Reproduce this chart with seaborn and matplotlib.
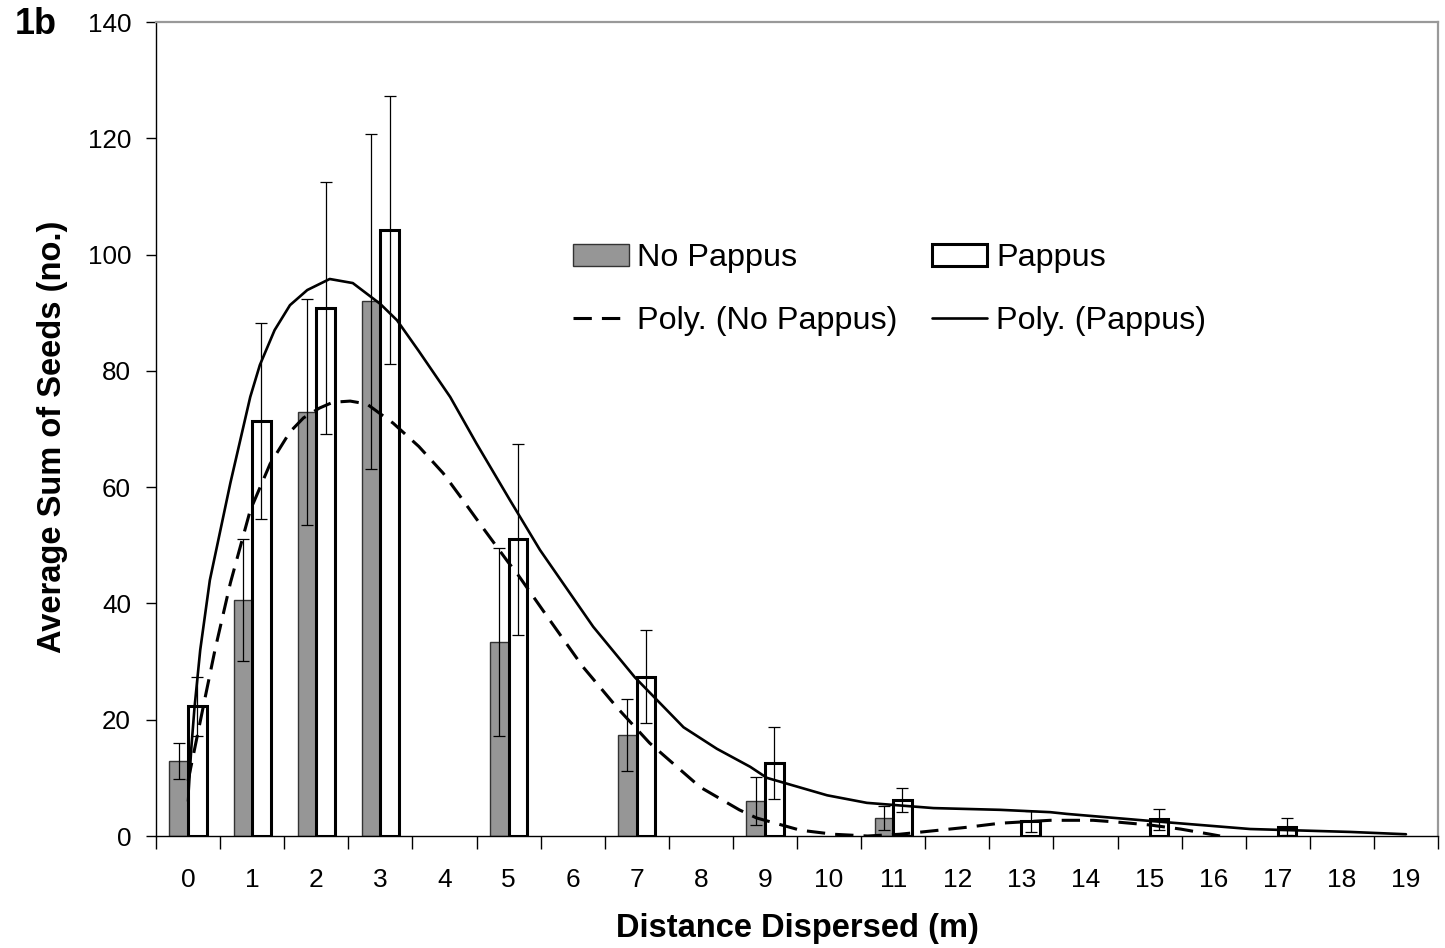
import numpy as np
import pandas as pd
import matplotlib
matplotlib.use("Agg")
import matplotlib.pyplot as plt
import seaborn as sns
from matplotlib.patches import Patch
from matplotlib.lines import Line2D
from matplotlib.ticker import FixedLocator

sns.set_theme(style="white")
plt.rcParams['font.family'] = ['Liberation Sans', 'DejaVu Sans']
plt.rcParams['text.color'] = 'black'
plt.rcParams['axes.labelcolor'] = 'black'
plt.rcParams['xtick.color'] = 'black'
plt.rcParams['ytick.color'] = 'black'

# ---- data ----
categories = list(range(20))

no_pappus_dist = [0, 1, 2, 3, 5, 7, 9, 11]
no_pappus_mean = [12.9, 40.6, 72.9, 92.0, 33.4, 17.4, 6.0, 3.1]
no_pappus_err = [3.1, 10.5, 19.4, 28.8, 16.2, 6.2, 4.1, 2.1]

pappus_dist = [0, 1, 2, 3, 5, 7, 9, 11, 13, 15, 17]
pappus_mean = [22.3, 71.4, 90.8, 104.2, 51.0, 27.4, 12.6, 6.2, 2.5, 2.9, 1.6]
pappus_err = [5.1, 16.9, 21.7, 23.0, 16.4, 8.0, 6.2, 2.1, 1.8, 1.8, 1.5]

# polynomial trendlines
poly_np_x = [0.0, 0.06, 0.27, 0.42, 0.66, 0.97, 1.28, 1.59, 1.8, 2.05, 2.26, 2.53,
             2.79, 3.2, 3.6, 3.98, 4.24, 4.6, 5.0, 5.13, 5.6, 6.16, 6.7, 7.2, 7.99,
             8.6, 8.87, 9.55, 10.07, 10.6, 11.1, 11.63, 12.15, 12.67, 13.45, 14.12,
             14.49, 15.0, 15.48, 15.95, 16.1]
poly_np_y = [9.5, 12.7, 24.0, 32.0, 43.5, 56.0, 64.0, 69.5, 71.9, 73.6, 74.6, 74.8,
             74.3, 71.0, 67.0, 62.4, 58.5, 53.0, 47.0, 45.2, 37.8, 29.1, 22.0, 16.0, 8.4,
             4.5, 3.1, 1.0, 0.3, 0.0, 0.3, 0.9, 1.5, 2.2, 2.7, 2.7,
             2.4, 1.9, 1.2, 0.3, 0.0]

poly_p_x = [0.0, 0.05, 0.1, 0.19, 0.34, 0.66, 0.97, 1.12, 1.35, 1.59, 1.86, 2.21,
            2.57, 3.0, 3.26, 3.6, 4.09, 4.5, 5.02, 5.49, 6.32, 6.97, 7.73, 8.25,
            8.77, 9.03, 9.97, 10.59, 11.63, 12.67, 13.45, 13.71, 15.0, 16.57,
            18.13, 19.0]
poly_p_y = [6.0, 15.0, 22.0, 32.0, 44.0, 60.7, 75.5, 81.0, 87.0, 91.3, 93.9, 95.8,
            95.1, 91.5, 88.7, 83.4, 75.5, 67.5, 57.8, 49.2, 36.0, 27.3, 18.7, 15.0,
            11.9, 10.0, 7.0, 5.7, 4.8, 4.5, 4.1, 3.8, 2.6, 1.2,
            0.7, 0.3]

y_ticks = [0, 20, 40, 60, 80, 100, 120, 140]

df = pd.concat([
    pd.DataFrame({"dist": no_pappus_dist, "mean": no_pappus_mean,
                  "err": no_pappus_err, "group": "No Pappus"}),
    pd.DataFrame({"dist": pappus_dist, "mean": pappus_mean,
                  "err": pappus_err, "group": "Pappus"}),
], ignore_index=True)

# ---- figure ----
W, H = 1445, 948
fig = plt.figure(figsize=(W / 100, H / 100), dpi=100)
ax = fig.add_axes([156 / W, 112 / H, 1282 / W, 814 / H])

GREY = "#969696"
sns.barplot(data=df, x="dist", y="mean", hue="group",
            hue_order=["No Pappus", "Pappus"],
            palette={"No Pappus": GREY, "Pappus": "white"},
            native_scale=True, width=0.58, errorbar=None, legend=False,
            ax=ax, zorder=2)

styles = {0: dict(ec="#333333", lw=1.0), 1: dict(ec="black", lw=2.2)}
errs = [no_pappus_err, pappus_err]
for i, cont in enumerate(ax.containers[:2]):
    xs, ys = [], []
    for bar in cont:
        bar.set_edgecolor(styles[i]["ec"])
        bar.set_linewidth(styles[i]["lw"])
        xs.append(bar.get_x() + bar.get_width() / 2)
        ys.append(bar.get_height())
    ax.errorbar(xs, ys, yerr=errs[i], fmt="none", ecolor="black",
                elinewidth=0.9, capsize=4.5, capthick=0.9, zorder=3)

sns.lineplot(x=poly_np_x, y=poly_np_y, color="black", linewidth=2.2,
             ax=ax, sort=False, zorder=4)
ax.lines[-1].set_linestyle((0, (6, 3.3)))
sns.lineplot(x=poly_p_x, y=poly_p_y, color="black", linewidth=1.9,
             ax=ax, sort=False, zorder=4)

# ---- axes ----
ax.set_xlim(-0.5, 19.5)
ax.set_ylim(0, 140)
ax.xaxis.set_major_locator(FixedLocator(categories))
ax.set_xticklabels([str(c) for c in categories])
ax.xaxis.set_minor_locator(FixedLocator([c - 0.5 for c in categories] + [19.5]))
ax.set_yticks(y_ticks)
ax.tick_params(axis="x", which="major", length=0, pad=23, labelsize=19, colors="black")
ax.tick_params(axis="x", which="minor", length=9, width=1, direction="out",
               color="black", bottom=True)
ax.tick_params(axis="y", which="major", length=7, width=1, direction="out",
               pad=11, labelsize=18.7, colors="black", left=True)

for s in ["left", "bottom"]:
    ax.spines[s].set_color("black")
    ax.spines[s].set_linewidth(1.0)
for s in ["top", "right"]:
    ax.spines[s].set_visible(True)
    ax.spines[s].set_color("#999999")
    ax.spines[s].set_linewidth(1.6)
ax.grid(False)

ax.set_xlabel("Distance Dispersed (m)", fontsize=23.5, fontweight="bold")
ax.set_ylabel("Average Sum of Seeds (no.)", fontsize=23.5, fontweight="bold")
ax.xaxis.set_label_coords(0.5, (836 - 929) / 814)
ax.xaxis.label.set_va("center")
ax.yaxis.set_label_coords((53 - 156) / 1282, (836 - 437) / 814)
ax.yaxis.label.set_va("center")

fig.text(15 / W, 1 - 25 / H, "1b", ha="left", va="center",
         fontsize=26, fontweight="bold")

handles = [
    Patch(facecolor=GREY, edgecolor="#333333", linewidth=1.0),
    Line2D([0], [0], color="black", lw=2.2, linestyle=(0, (6, 3.3))),
    Patch(facecolor="white", edgecolor="black", linewidth=2.2),
    Line2D([0], [0], color="black", lw=1.9),
]
labels = ["No Pappus", "Poly. (No Pappus)", "Pappus", "Poly. (Pappus)"]
ax.legend(handles, labels, ncol=2, loc="upper left",
          bbox_to_anchor=((573 - 156) / 1282, (836 - 243) / 814),
          frameon=False, fontsize=23.3, handlelength=1.72, handleheight=0.66,
          handletextpad=0.27, columnspacing=1.05, labelspacing=1.03,
          borderpad=0, borderaxespad=0)

fig.savefig("out.png", dpi=100, facecolor="white")
